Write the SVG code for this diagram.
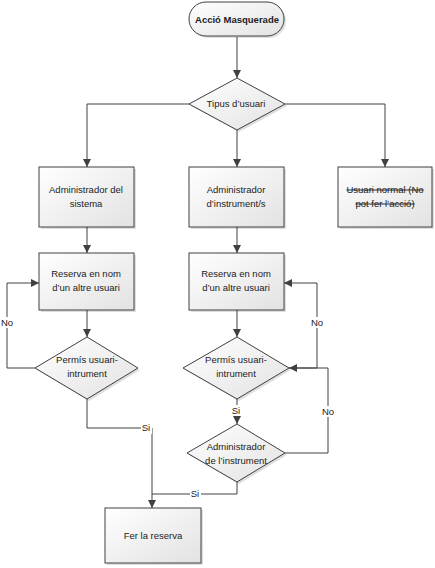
<svg xmlns="http://www.w3.org/2000/svg" width="435" height="568" viewBox="0 0 435 568">
<style>
.shape{fill:url(#g);stroke:#404040;stroke-width:1}
.shadow{fill:#000;opacity:0.13}
.t{font-family:"Liberation Sans",Arial,sans-serif;font-size:9.5px;fill:#222;text-anchor:middle}
.b{font-weight:bold}
.s{text-decoration:line-through}
.c{fill:none;stroke:#404040;stroke-width:1}
.lb{fill:#fff}
</style>
<defs>
<linearGradient id="g" x1="0" y1="0" x2="1" y2="1">
<stop offset="0" stop-color="#ffffff"/>
<stop offset="1" stop-color="#e2e2e2"/>
</linearGradient>
<marker id="a" viewBox="0 0 10 10" refX="10" refY="5" markerWidth="8" markerHeight="8" markerUnits="userSpaceOnUse" orient="auto">
<path d="M0,0 L10,5 L0,10 z" fill="#404040"/>
</marker>
</defs>

<g id="connectors">
<path class="c" d="M237,37 V78" marker-end="url(#a)"/>
<path class="c" d="M189,104 H87 V167" marker-end="url(#a)"/>
<path class="c" d="M237,130 V167" marker-end="url(#a)"/>
<path class="c" d="M285,104 H385 V167" marker-end="url(#a)"/>
<path class="c" d="M87,227 V253" marker-end="url(#a)"/>
<path class="c" d="M237,227 V253" marker-end="url(#a)"/>
<path class="c" d="M87,310 V337" marker-end="url(#a)"/>
<path class="c" d="M237,310 V337" marker-end="url(#a)"/>
<path class="c" d="M35,368 H7 V283 H39" marker-end="url(#a)"/>
<path class="c" d="M87,399 V428 H152 V508" marker-end="url(#a)"/>
<path class="c" d="M289,368 H317 V283 H284" marker-end="url(#a)"/>
<path class="c" d="M237,399 V424" marker-end="url(#a)"/>
<path class="c" d="M237,482 V494 H152"/>
<path class="c" d="M285,453 H328 V368 H289" marker-end="url(#a)"/>
<rect class="lb" x="0" y="317" width="14" height="11"/>
<text class="t" x="7" y="326">No</text>
<rect class="lb" x="141" y="423" width="11" height="11"/>
<text class="t" x="146" y="431">Si</text>
<rect class="lb" x="310" y="317" width="14" height="11"/>
<text class="t" x="317" y="326">No</text>
<rect class="lb" x="231" y="405" width="11" height="11"/>
<text class="t" x="236" y="414">Si</text>
<rect class="lb" x="321" y="406" width="14" height="11"/>
<text class="t" x="328" y="415">No</text>
<rect class="lb" x="190" y="489" width="11" height="11"/>
<text class="t" x="195" y="497">Si</text>
</g>

<g id="start">
<rect class="shadow" x="191" y="4" width="95" height="34" rx="17"/>
<rect class="shape" x="189" y="2" width="95" height="34" rx="17"/>
<text class="t b" x="237" y="23">Acció Masquerade</text>
</g>

<g id="tipus">
<polygon class="shadow" points="239,80 287,106 239,132 191,106"/>
<polygon class="shape" points="237,78 285,104 237,130 189,104"/>
<text class="t" x="236" y="107">Tipus d’usuari</text>
</g>

<g id="admin-sistema">
<rect class="shadow" x="41" y="169" width="95" height="60"/>
<rect class="shape" x="39" y="167" width="95" height="60"/>
<text class="t" x="86" y="193">Administrador del</text>
<text class="t" x="86" y="207">sistema</text>
</g>

<g id="admin-instrument">
<rect class="shadow" x="191" y="169" width="95" height="60"/>
<rect class="shape" x="189" y="167" width="95" height="60"/>
<text class="t" x="236" y="193">Administrador</text>
<text class="t" x="236" y="207">d’instrument/s</text>
</g>

<g id="usuari-normal">
<rect class="shadow" x="340" y="169" width="94" height="60"/>
<rect class="shape" x="338" y="167" width="94" height="60"/>
<text class="t s" x="385" y="193">Usuari normal (No</text>
<text class="t s" x="385" y="207">pot fer l’acció)</text>
</g>

<g id="reserva-1">
<rect class="shadow" x="41" y="255" width="95" height="57"/>
<rect class="shape" x="39" y="253" width="95" height="57"/>
<text class="t" x="86" y="277">Reserva en nom</text>
<text class="t" x="86" y="291">d’un altre usuari</text>
</g>

<g id="reserva-2">
<rect class="shadow" x="191" y="255" width="95" height="57"/>
<rect class="shape" x="189" y="253" width="95" height="57"/>
<text class="t" x="236" y="277">Reserva en nom</text>
<text class="t" x="236" y="291">d’un altre usuari</text>
</g>

<g id="permis-1">
<polygon class="shadow" points="89,339 140,370 89,401 37,370"/>
<polygon class="shape" points="87,337 138,368 87,399 35,368"/>
<text class="t" x="87" y="363">Permís usuari-</text>
<text class="t" x="87" y="377">intrument</text>
</g>

<g id="permis-2">
<polygon class="shadow" points="239,339 291,370 239,401 185,370"/>
<polygon class="shape" points="237,337 289,368 237,399 183,368"/>
<text class="t" x="236" y="363">Permís usuari-</text>
<text class="t" x="236" y="377">intrument</text>
</g>

<g id="admin-instr-decisio">
<polygon class="shadow" points="239,426 287,455 239,484 189,455"/>
<polygon class="shape" points="237,424 285,453 237,482 187,453"/>
<text class="t" x="236" y="450">Administrador</text>
<text class="t" x="236" y="464">de l’instrument</text>
</g>

<g id="fer-reserva">
<rect class="shadow" x="107" y="510" width="96" height="55"/>
<rect class="shape" x="105" y="508" width="96" height="55"/>
<text class="t" x="153" y="539">Fer la reserva</text>
</g>
</svg>
